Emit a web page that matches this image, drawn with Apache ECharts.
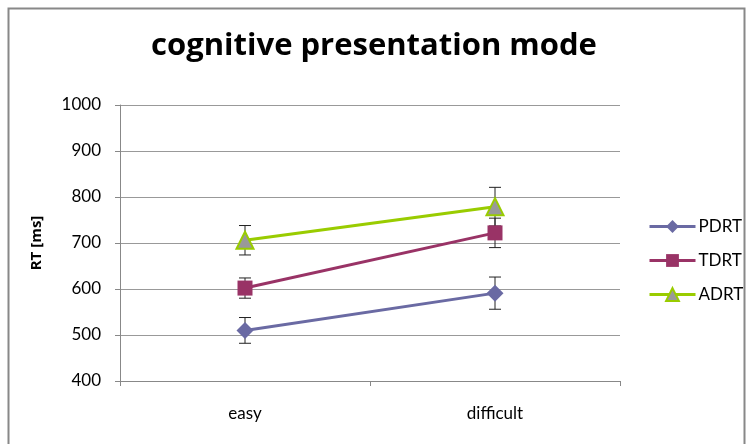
<!DOCTYPE html>
<html><head><meta charset="utf-8">
<script src="https://cdn.jsdelivr.net/npm/echarts@6/dist/echarts.min.js"></script>
<style>html,body{margin:0;padding:0;background:#fff}#c{width:748px;height:444px}</style>
</head><body><div id="c"></div>
<script>
var categories = ['easy', 'difficult'];
var seriesNames = ['PDRT', 'TDRT', 'ADRT'];
var pdrt = [510, 591];
var tdrt = [602, 722];
var adrt = [706, 779];
var pdrtErr = [28, 35];
var tdrtErr = [22, 32];
var adrtErr = [32, 42];
var yTicks = [400, 500, 600, 700, 800, 900, 1000];

var values = [pdrt, tdrt, adrt];
var errs = [pdrtErr, tdrtErr, adrtErr];
var colors = ['#6A6AA3', '#993366', '#99CC00'];
var symbols = ['diamond', 'rect', 'triangle'];
var symbolSizes = [17, 15, 17];

var chart = echarts.init(document.getElementById('c'), null, {renderer: 'canvas'});
var font = '"Open Sans", "Liberation Sans", sans-serif';
var lfont = 'Lato, "Open Sans", sans-serif';

var series = [];
values.forEach(function (vals, i) {
  var errData = vals.map(function (v, j) { return [j, v - errs[i][j], v + errs[i][j]]; });
  series.push({
    type: 'custom',
    name: seriesNames[i] + '_err',
    z: 1,
    silent: true,
    renderItem: function (params, api) {
      var x = api.value(0);
      var lo = api.coord([x, api.value(1)]);
      var hi = api.coord([x, api.value(2)]);
      var w = 6;
      var st = {stroke: '#222', lineWidth: 1};
      return {type: 'group', children: [
        {type: 'line', shape: {x1: lo[0], y1: lo[1], x2: hi[0], y2: hi[1]}, style: st},
        {type: 'line', shape: {x1: lo[0] - w, y1: lo[1], x2: lo[0] + w, y2: lo[1]}, style: st},
        {type: 'line', shape: {x1: hi[0] - w, y1: hi[1], x2: hi[0] + w, y2: hi[1]}, style: st}
      ]};
    },
    data: errData
  });
});
values.forEach(function (vals, i) {
  series.push({
    type: 'line',
    name: seriesNames[i],
    z: 3,
    data: vals,
    symbol: symbols[i],
    symbolSize: symbolSizes[i],
    showAllSymbol: true,
    lineStyle: {color: colors[i], width: 3},
    itemStyle: i === 2 ? {color: '#999999', borderColor: '#99CC00', borderWidth: 2} : {color: colors[i], borderWidth: 0},
    emphasis: {disabled: true}
  });
});

chart.setOption({
  animation: false,
  title: {
    text: 'cognitive presentation mode',
    left: 'center',
    top: 26,
    textStyle: {fontFamily: font, fontWeight: 'bold', fontSize: 31, color: '#000'}
  },
  graphic: [{
    type: 'rect',
    shape: {x: 8.5, y: 8.5, width: 736, height: 450},
    style: {fill: 'none', stroke: '#888', lineWidth: 2},
    silent: true
  }],
  legend: {
    data: seriesNames,
    orient: 'vertical',
    left: 643,
    top: 213,
    itemGap: 17,
    itemWidth: 46,
    itemHeight: 16,
    lineStyle: {width: 3},
    textStyle: {fontFamily: lfont, fontSize: 17, color: '#000', padding: [0, 0, 0, -2]}
  },
  grid: {left: 120, right: 128, top: 105, bottom: 63, containLabel: false},
  xAxis: {
    type: 'category',
    data: categories,
    boundaryGap: true,
    axisLine: {lineStyle: {color: '#888', width: 1}},
    axisTick: {show: true, length: 5, lineStyle: {color: '#888'}},
    axisLabel: {fontFamily: lfont, fontSize: 17, color: '#000', margin: 24}
  },
  yAxis: {
    type: 'value',
    min: yTicks[0],
    max: yTicks[yTicks.length - 1],
    interval: 100,
    name: 'RT [ms]',
    nameLocation: 'middle',
    nameGap: 76,
    nameTextStyle: {fontFamily: font, fontWeight: 'bold', fontSize: 15, color: '#000'},
    axisLine: {show: true, lineStyle: {color: '#888', width: 1}},
    axisTick: {show: true, length: 5, lineStyle: {color: '#888'}},
    axisLabel: {fontFamily: lfont, fontSize: 17, color: '#000', margin: 19, formatter: function (v) { return String(v); }},
    splitLine: {lineStyle: {color: '#999', width: 1}}
  },
  series: series
});
</script></body></html>
